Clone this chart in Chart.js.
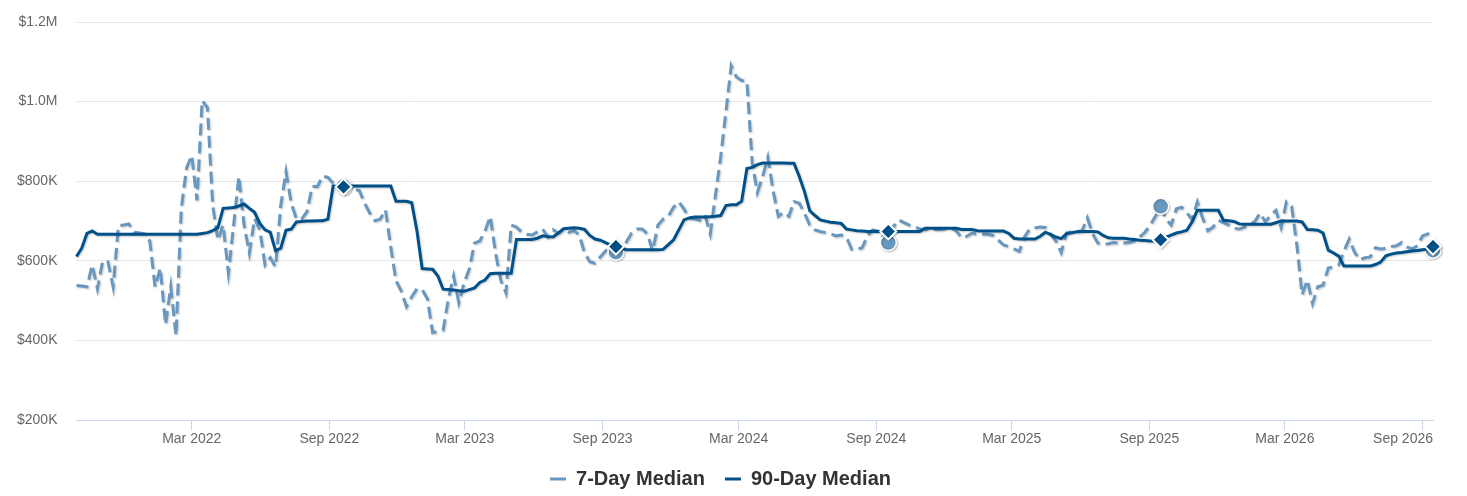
<!DOCTYPE html>
<html>
<head>
<meta charset="utf-8">
<title>7-Day vs 90-Day Median</title>
<script src="https://cdn.jsdelivr.net/npm/chart.js@4.4.1/dist/chart.umd.min.js"></script>
<style>
  html, body { margin: 0; padding: 0; background: #fff; }
  #wrap { width: 1467px; height: 496px; position: relative; }
</style>
</head>
<body>
<div id="wrap"><canvas id="chart"></canvas></div>
<script>
// weekly series, first week starts here
const startDate = '2021-09-28'
const stepDays = 7

// values in $K
const sevenDayMedian = [
  538, 537, 535, 590, 530, 600, 598, 535, 688, 690,
  693, 672, 670, 668, 650, 535, 582, 440, 535, 412,
  730, 833, 865, 752, 1003, 985, 740, 652, 690, 570,
  690, 812, 690, 620, 706, 678, 590, 608, 585, 740,
  824, 745, 705, 705, 724, 787, 787, 813, 810, 795,
  795, 787, 783, 780, 777, 745, 720, 701, 705, 728,
  635, 550, 525, 485, 510, 530, 528, 505, 420, 423,
  426, 505, 562, 495, 545, 580, 645, 650, 675, 712,
  620, 552, 520, 690, 685, 672, 667, 665, 673, 680,
  660, 678, 670, 680, 672, 676, 665, 620, 598, 594,
  610, 625, 630, 622, 625, 648, 670, 680, 680, 668,
  625, 690, 705, 712, 735, 748, 730, 708, 706, 702,
  715, 668, 765, 862, 975, 1090, 1062, 1053, 1052, 848,
  772, 812, 860, 776, 712, 722, 712, 749, 745, 720,
  690, 678, 674, 671, 668, 663, 665, 660, 629, 629,
  633, 663, 678, 675, 660, 646, 687, 703, 696, 690,
  686, 680, 679, 679, 679, 679, 681, 683, 675, 658,
  662, 670, 667, 667, 667, 664, 652, 640, 636, 630,
  624, 660, 680, 683, 685, 684, 667, 650, 621, 670,
  674, 674, 676, 708, 668, 645, 642, 643, 646, 645,
  645, 646, 650, 660, 672, 690, 712, 737, 705, 690,
  731, 735, 721, 704, 748, 708, 676, 685, 702, 696,
  690, 682, 680, 685, 690, 700, 720, 698, 715, 727,
  684, 748, 737, 640, 515, 552, 493, 535, 539, 582,
  585, 590, 625, 655, 622, 603, 608, 610, 633, 630,
  631, 636, 638, 646, 635, 630, 638, 663, 668, 627
]

const ninetyDayMedian = [
  611, 632, 669, 675, 667, 667, 667, 667, 667, 667,
  667, 667, 667, 667, 667, 667, 667, 667, 667, 667,
  667, 667, 667, 667, 669, 671, 676, 684, 732, 733,
  734, 738, 743, 732, 722, 694, 678, 672, 626, 632,
  677, 680, 698, 699, 700, 700, 701, 701, 705, 788,
  787, 786, 788, 788, 788, 788, 788, 788, 788, 788,
  788, 750, 750, 750, 746, 676, 581, 580, 579, 562,
  529, 528, 527, 525, 524, 528, 532, 546, 552, 568,
  569, 569, 569, 569, 654, 654, 654, 654, 657, 663,
  661, 660, 670, 681, 682, 683, 682, 679, 664, 655,
  652, 646, 640, 636, 632, 628, 628, 628, 628, 628,
  628, 628, 629, 641, 653, 678, 703, 708, 710, 710,
  710, 711, 712, 714, 739, 741, 741, 750, 832, 835,
  842, 846, 846, 846, 846, 846, 845, 845, 812, 774,
  726, 714, 703, 700, 697, 696, 694, 680, 678, 676,
  675, 674, 674, 674, 674, 674, 674, 674, 674, 674,
  674, 674, 682, 682, 682, 682, 682, 682, 682, 679,
  679, 679, 676, 675, 675, 675, 675, 675, 669, 657,
  655, 655, 655, 655, 662, 672, 666, 660, 656, 668,
  671, 673, 674, 674, 674, 673, 664, 658, 657, 657,
  657, 655, 654, 652, 651, 650, 650, 653, 660, 665,
  670, 673, 677, 698, 727, 727, 727, 727, 727, 702,
  701, 699, 693, 692, 692, 692, 692, 692, 692, 696,
  700, 700, 700, 700, 698, 679, 678, 677, 670, 627,
  620, 612, 587, 587, 587, 587, 587, 587, 591, 597,
  613, 617, 620, 621, 623, 625, 626, 628, 630, 636
]

// weeks that carry a marker (one a year)
const markerWeeks = [51, 103, 155, 207, 259]

const xTickDates = ['2022-03-01', '2022-09-01', '2023-03-01', '2023-09-01', '2024-03-01',
  '2024-09-01', '2025-03-01', '2025-09-01', '2026-03-01', '2026-09-01']
const xTickLabels = ['Mar 2022', 'Sep 2022', 'Mar 2023', 'Sep 2023', 'Mar 2024',
  'Sep 2024', 'Mar 2025', 'Sep 2025', 'Mar 2026', 'Sep 2026']

const lightBlue = '#6897bf'
const darkBlue = '#00518a'

const dayOf = d => (Date.parse(d) - Date.parse(startDate)) / 86400000
const toPoints = arr => arr.map((v, i) => ({ x: i * stepDays, y: v * 1000 }))
const markerSizes = (arr, r) => arr.map((v, i) => markerWeeks.includes(i) ? r : 0)
const money = v => v >= 1000000 ? '$' + (v / 1000000).toFixed(1) + 'M' : '$' + (v / 1000) + 'K'

// soft drop shadow under the series, like the original
const lineShadow = {
    id: 'lineShadow',
    beforeDatasetDraw(chart) {
        const ctx = chart.ctx
        ctx.save()
        ctx.shadowColor = 'rgba(0, 0, 0, 0.22)'
        ctx.shadowBlur = 2
        ctx.shadowOffsetX = 1
        ctx.shadowOffsetY = 1
    },
    afterDatasetDraw(chart) {
        chart.ctx.restore()
    }
}

// last x label is pulled inside the plot (right aligned), legend nudged right
const tidyLabels = {
    id: 'tidyLabels',
    afterLayout(chart) {
        chart.legend.left += 5
        chart.legend.right += 5
    },
    beforeDraw(chart) {
        const x = chart.scales.x
        const items = x.getLabelItems()
        const last = items[items.length - 1]
        if (!last) return
        last.options.textAlign = 'right'
        last.options.translation[0] = x.right
    }
}

Chart.defaults.font.family = "'Liberation Sans', Arial, sans-serif"
Chart.defaults.animation = false

const tickDays = xTickDates.map(dayOf)
const lastDay = (sevenDayMedian.length - 1) * stepDays

new Chart(document.getElementById('chart').getContext('2d'), {
    type: 'line',
    data: {
        datasets: [{
            label: '90-Day Median',
            data: toPoints(ninetyDayMedian),
            borderColor: darkBlue,
            backgroundColor: darkBlue,
            borderWidth: 3,
            pointStyle: 'rectRot',
            pointRadius: markerSizes(ninetyDayMedian, 8),
            pointHoverRadius: markerSizes(ninetyDayMedian, 8),
            pointBackgroundColor: darkBlue,
            pointBorderColor: '#ffffff',
            pointBorderWidth: 2,
            tension: 0,
            clip: false
        }, {
            label: '7-Day Median',
            data: toPoints(sevenDayMedian),
            borderColor: lightBlue,
            backgroundColor: lightBlue,
            borderWidth: 3,
            borderDash: [12, 6],
            pointStyle: 'circle',
            pointRadius: markerSizes(sevenDayMedian, 8),
            pointHoverRadius: markerSizes(sevenDayMedian, 8),
            pointBackgroundColor: lightBlue,
            pointBorderColor: '#ffffff',
            pointBorderWidth: 1.5,
            tension: 0,
            clip: false
        }]
    },
    options: {
        responsive: true,
        maintainAspectRatio: false,
        layout: { padding: { left: -2, right: 34, top: 22, bottom: -3 } },
        scales: {
            x: {
                type: 'linear',
                min: 0,
                max: lastDay,
                afterBuildTicks: scale => { scale.ticks = tickDays.map(v => ({ value: v })) },
                ticks: {
                    autoSkip: false,
                    maxRotation: 0,
                    padding: 1,
                    color: '#666666',
                    font: { size: 14 },
                    callback: (v, i) => xTickLabels[i]
                },
                grid: { drawOnChartArea: false, drawTicks: true, tickLength: 10, color: '#ccd6eb' },
                border: { display: true, color: '#ccd6eb', width: 1 }
            },
            y: {
                min: 200000,
                max: 1200000,
                // keep the label gap from pushing the plot down
                afterFit: scale => { scale.paddingTop = 9; scale.paddingBottom = 9 },
                ticks: {
                    stepSize: 200000,
                    padding: 19,
                    color: '#666666',
                    font: { size: 14 },
                    callback: v => money(v)
                },
                grid: { color: '#e6e6e6', drawTicks: false },
                border: { display: false }
            }
        },
        plugins: {
            legend: {
                position: 'bottom',
                reverse: true,
                labels: {
                    boxWidth: 16,
                    boxHeight: 3,
                    padding: 20,
                    color: '#333333',
                    font: { size: 20, weight: 'bold' },
                    generateLabels: chart => Chart.defaults.plugins.legend.labels.generateLabels(chart)
                        .map(item => ({ ...item, lineWidth: 0 }))
                }
            },
            tooltip: { enabled: false }
        }
    },
    plugins: [lineShadow, tidyLabels]
})
</script>
</body>
</html>
